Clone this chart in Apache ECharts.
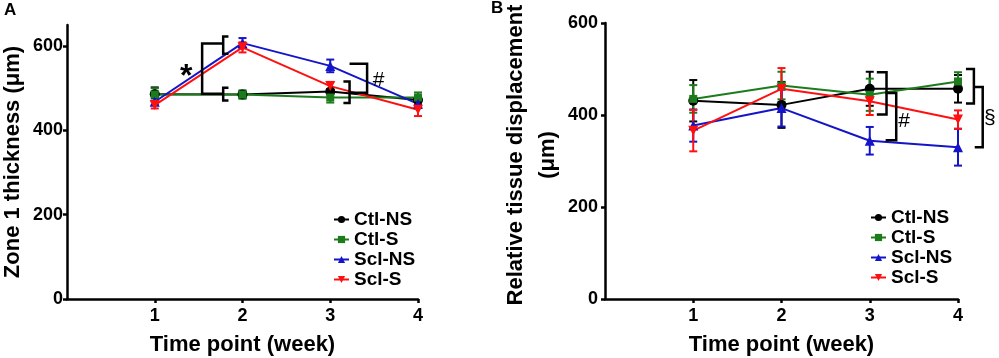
<!DOCTYPE html>
<html>
<head>
<meta charset="utf-8">
<script src="https://cdn.jsdelivr.net/npm/echarts@6/dist/echarts.min.js"></script>
<style>
  html, body { margin: 0; padding: 0; background: #fff; }
  #chart { width: 999px; height: 358px; }
</style>
</head>
<body>
<div id="chart"></div>
<script>
const weeks = [1, 2, 3, 4]
const groupNames = ['Ctl-NS', 'Ctl-S', 'Scl-NS', 'Scl-S']
const groupColors = ['#000000', '#1c7c1c', '#1414c8', '#ff1010']
const groupSymbols = ['circle', 'rect', 'triangle', 'path://M0,0 L10,0 L5,10 Z']

// panel A: zone 1 thickness (um), mean and error
const ctlNsThick = [486, 485, 492, 472]
const ctlNsThickErr = [16, 8, 6, 12]
const ctlSThick = [485, 485, 478, 478]
const ctlSThickErr = [15, 10, 12, 12]
const sclNsThick = [468, 607, 553, 463]
const sclNsThickErr = [8, 12, 15, 10]
const sclSThick = [460, 597, 505, 449]
const sclSThickErr = [8, 12, 10, 15]

// panel B: relative tissue displacement (um), mean and error
const ctlNsDisp = [431, 422, 457, 457]
const ctlNsDispErr = [45, 50, 37, 30]
const ctlSDisp = [435, 464, 444, 473]
const ctlSDispErr = [30, 30, 35, 20]
const sclNsDisp = [377, 415, 344, 330]
const sclNsDispErr = [35, 40, 30, 40]
const sclSDisp = [366, 457, 430, 390]
const sclSDispErr = [45, 45, 30, 20]

const yTicks = [0, 200, 400, 600]
const xTicks = [1, 2, 3, 4]

// significance brackets: [arm end x, spine x, top y, bottom y]
const bracketsA = [
  [1.77, 1.54, 606, 487],
  [1.84, 1.78, 623, 582],
  [1.84, 1.78, 501, 471],
  [3.15, 3.22, 516, 465],
  [3.22, 3.42, 558, 489],
]
const bracketsB = [
  [3.08, 3.19, 493, 401],
  [3.18, 3.30, 448, 345],
  [4.09, 4.18, 500, 425],
  [4.19, 4.28, 461, 330],
]
// significance marks: [x, y, text]
const marksA = [[1.36, 527, '*'], [3.55, 520, '#']]
const marksB = [[3.39, 386, '#'], [4.36, 393, '§']]

const meansA = [ctlNsThick, ctlSThick, sclNsThick, sclSThick]
const errsA = [ctlNsThickErr, ctlSThickErr, sclNsThickErr, sclSThickErr]
const meansB = [ctlNsDisp, ctlSDisp, sclNsDisp, sclSDisp]
const errsB = [ctlNsDispErr, ctlSDispErr, sclNsDispErr, sclSDispErr]

const FONT = 'Liberation Sans, Arial, sans-serif'

function errorBarItem(params, api) {
  const x = api.value(0)
  const lo = api.coord([x, api.value(1)])
  const hi = api.coord([x, api.value(2)])
  const w = 4
  const style = { stroke: api.visual('color'), lineWidth: 2, fill: null }
  return {
    type: 'group',
    children: [
      { type: 'line', shape: { x1: lo[0], y1: hi[1], x2: lo[0], y2: lo[1] }, style },
      { type: 'line', shape: { x1: lo[0] - w, y1: hi[1], x2: lo[0] + w, y2: hi[1] }, style },
      { type: 'line', shape: { x1: lo[0] - w, y1: lo[1], x2: lo[0] + w, y2: lo[1] }, style },
    ],
  }
}

function bracketItem(params, api) {
  const a = api.coord([api.value(0), api.value(2)])
  const b = api.coord([api.value(1), api.value(2)])
  const c = api.coord([api.value(1), api.value(3)])
  const d = api.coord([api.value(0), api.value(3)])
  return {
    type: 'polyline',
    shape: { points: [a, b, c, d] },
    style: { stroke: '#000', lineWidth: 2.5, fill: null },
  }
}

function makeMarkItem(marks) {
  return function (params, api) {
    const p = api.coord([api.value(0), api.value(1)])
    const txt = marks[params.dataIndex][2]
    const big = txt === '*'
    return {
      type: 'text',
      x: p[0],
      y: p[1],
      style: {
        text: txt,
        fill: '#000',
        font: (big ? 'bold 32px ' : '21px ') + FONT,
        align: 'center',
        verticalAlign: 'middle',
      },
    }
  }
}

function axisPair(grid, yMax, yName, nameGap, labelMargin, namePad) {
  return {
    x: {
      type: 'value', gridIndex: grid, min: 0, max: 4,
      axisLine: { lineStyle: { color: '#000', width: 2.5 } },
      axisTick: { length: 4, lineStyle: { width: 2.5 }, customValues: xTicks },
      axisLabel: { customValues: xTicks, color: '#000', fontWeight: 'bold', fontSize: 18, fontFamily: FONT, margin: 8 },
      splitLine: { show: false },
      name: 'Time point (week)', nameLocation: 'middle', nameGap: 35,
      nameTextStyle: { color: '#000', fontWeight: 'bold', fontSize: 22, fontFamily: FONT },
    },
    y: {
      type: 'value', gridIndex: grid, min: 0, max: yMax,
      axisLine: { show: true, lineStyle: { color: '#000', width: 2.5 } },
      axisTick: { show: true, length: 4, lineStyle: { width: 2.5 }, customValues: yTicks },
      axisLabel: { customValues: yTicks, color: '#000', fontWeight: 'bold', fontSize: 18, fontFamily: FONT, margin: labelMargin },
      splitLine: { show: false },
      name: yName, nameLocation: 'middle', nameGap: nameGap,
      nameTextStyle: { color: '#000', fontWeight: 'bold', fontSize: 22, fontFamily: FONT, lineHeight: 32, padding: namePad },
    },
  }
}

const axA = axisPair(0, 650, 'Zone 1 thickness (μm)', 38, 4, [0, 0, 0, 0])
const axB = axisPair(1, 600, 'Relative tissue displacement\n(μm)', 34, 7, [0, 0, 0, 12])

const series = []
function addPanel(grid, means, errs) {
  means.forEach((m, i) => {
    series.push({
      name: groupNames[i] + ' err',
      type: 'custom',
      xAxisIndex: grid, yAxisIndex: grid,
      renderItem: errorBarItem,
      itemStyle: { color: groupColors[i] },
      data: weeks.map((w, k) => [w, m[k] - errs[i][k], m[k] + errs[i][k]]),
      z: 2,
    })
  })
  means.forEach((m, i) => {
    series.push({
      name: groupNames[i],
      type: 'line',
      xAxisIndex: grid, yAxisIndex: grid,
      data: weeks.map((w, k) => [w, m[k]]),
      symbol: groupSymbols[i],
      symbolSize: i === 1 ? 8 : 10,
      showAllSymbol: true,
      lineStyle: { color: groupColors[i], width: 2 },
      itemStyle: { color: groupColors[i] },
      z: 3,
    })
  })
}
addPanel(0, meansA, errsA)
addPanel(1, meansB, errsB)

series.push({
  type: 'custom', xAxisIndex: 0, yAxisIndex: 0, renderItem: bracketItem,
  data: bracketsA, clip: false, z: 4,
})
series.push({
  type: 'custom', xAxisIndex: 1, yAxisIndex: 1, renderItem: bracketItem,
  data: bracketsB, clip: false, z: 4,
})
series.push({
  type: 'custom', xAxisIndex: 0, yAxisIndex: 0, renderItem: makeMarkItem(marksA),
  data: marksA.map(d => [d[0], d[1]]), clip: false, z: 4,
})
series.push({
  type: 'custom', xAxisIndex: 1, yAxisIndex: 1, renderItem: makeMarkItem(marksB),
  data: marksB.map(d => [d[0], d[1]]), clip: false, z: 4,
})

const legendBase = {
  orient: 'vertical',
  data: groupNames,
  itemWidth: 15,
  itemHeight: 9,
  itemGap: 1,
  selectedMode: false,
  textStyle: { color: '#000', fontWeight: 'bold', fontSize: 19, fontFamily: FONT, padding: [0, 0, 0, 0] },
}

const option = {
  animation: false,
  backgroundColor: '#fff',
  grid: [
    { left: 67, top: 25, width: 351, height: 274, outerBoundsMode: 'none', containLabel: false },
    { left: 605, top: 23, width: 353, height: 276, outerBoundsMode: 'none', containLabel: false },
  ],
  xAxis: [axA.x, axB.x],
  yAxis: [axA.y, axB.y],
  legend: [
    Object.assign({ left: 328, top: 205 }, legendBase),
    Object.assign({ left: 865, top: 203 }, legendBase),
  ],
  graphic: [
    { type: 'text', left: 4, top: 2, style: { text: 'A', font: 'bold 17px ' + FONT, fill: '#000' } },
    { type: 'text', left: 491, top: 0, style: { text: 'B', font: 'bold 17px ' + FONT, fill: '#000' } },
  ],
  series,
}

const chart = echarts.init(document.getElementById('chart'), null, { renderer: 'canvas' })
chart.setOption(option)
</script>
</body>
</html>
